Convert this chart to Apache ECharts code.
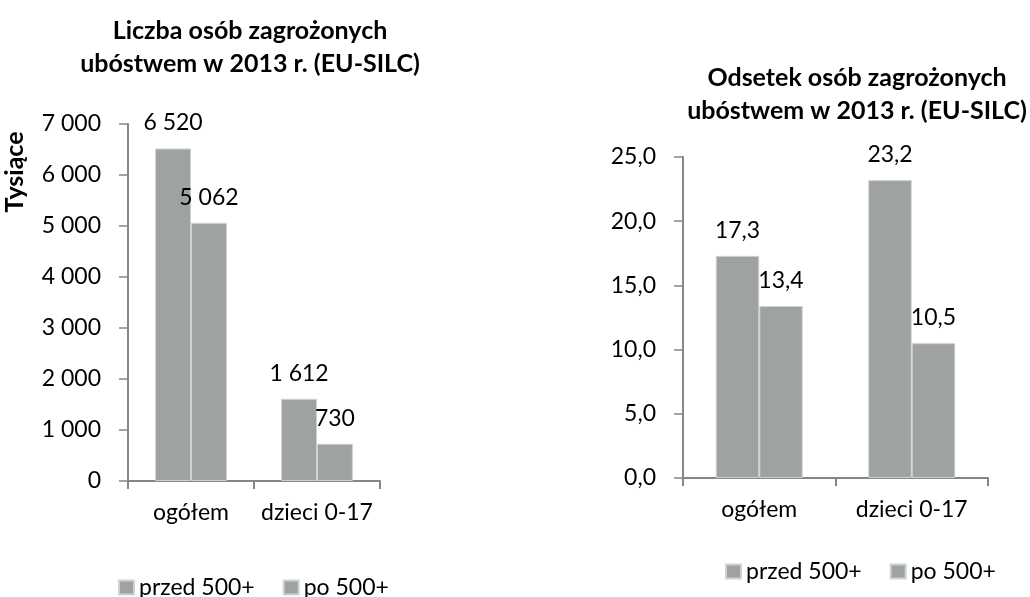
<!DOCTYPE html>
<html>
<head>
<meta charset="utf-8">
<script src="https://cdn.jsdelivr.net/npm/echarts@6/dist/echarts.min.js"></script>
<style>
  html, body { margin: 0; padding: 0; background: #fff; }
  #chart { width: 1030px; height: 597px; }
</style>
</head>
<body>
<div id="chart"></div>
<script>
const categories = ["ogółem", "dzieci 0-17"];
const seriesNames = ["przed 500+", "po 500+"];
const countBefore = [6520, 1612];
const countAfter = [5062, 730];
const rateBefore = [17.3, 23.2];
const rateAfter = [13.4, 10.5];

const font = "Lato, 'Liberation Sans', sans-serif";
const barColor = "#9ea2a3";
const axisColor = "#868686";

const fmtThousands = (v) => String(v).replace(/\B(?=(\d{3})+(?!\d))/g, " ");
const fmtRate = (v) => v.toFixed(1).replace(".", ",");

function barSeries(name, data, idx, fmt) {
  return {
    name,
    type: "bar",
    xAxisIndex: idx,
    yAxisIndex: idx,
    data,
    barGap: "0%",
    barCategoryGap: "43%",
    itemStyle: { color: barColor, borderColor: "#cfd2d2", borderWidth: 1 },
    label: {
      show: true,
      position: "top",
      distance: 14,
      color: "#000",
      fontFamily: font,
      fontSize: 23,
      formatter: (p) => fmt(p.value)
    }
  };
}

function catAxis(idx) {
  return {
    type: "category",
    gridIndex: idx,
    data: categories,
    axisLine: { lineStyle: { color: axisColor, width: 2 } },
    axisTick: { show: true, length: 8, lineStyle: { color: axisColor, width: 2 } },
    axisLabel: { color: "#000", fontFamily: font, fontSize: 23, margin: 20, interval: 0 }
  };
}

function valAxis(idx, max, interval, fmt) {
  return {
    type: "value",
    gridIndex: idx,
    min: 0,
    max,
    interval,
    splitLine: { show: false },
    axisLine: { show: true, lineStyle: { color: axisColor, width: 2 } },
    axisTick: { show: true, length: 9, lineStyle: { color: axisColor, width: 1.5 } },
    axisLabel: { color: "#000", fontFamily: font, fontSize: 23, margin: 27, formatter: fmt }
  };
}

const legendBase = {
  data: seriesNames,
  icon: "rect",
  itemWidth: 15,
  itemHeight: 14,
  itemGap: 28,
  textStyle: { color: "#000", fontFamily: font, fontSize: 23 }
};

const titleStyle = { fontFamily: font, fontSize: 25, fontWeight: "bold", color: "#000", lineHeight: 33 };

const chart = echarts.init(document.getElementById("chart"));
chart.setOption({
  animation: false,
  textStyle: { fontFamily: font },
  title: [
    {
      text: "Liczba osób zagrożonych\nubóstwem w 2013 r. (EU-SILC)",
      left: 245,
      top: 9,
      textAlign: "center",
      textStyle: titleStyle
    },
    {
      text: "Odsetek osób zagrożonych\nubóstwem w 2013 r. (EU-SILC)",
      left: 852,
      top: 56,
      textAlign: "center",
      textStyle: titleStyle
    }
  ],
  legend: [
    { ...legendBase, left: 113, top: 571 },
    { ...legendBase, left: 720, top: 555 }
  ],
  grid: [
    { left: 128, right: 650, top: 124, bottom: 116 },
    { left: 683, right: 42, top: 157, bottom: 119 }
  ],
  xAxis: [catAxis(0), catAxis(1)],
  yAxis: [
    valAxis(0, 7000, 1000, fmtThousands),
    valAxis(1, 25, 5, fmtRate)
  ],
  graphic: [
    {
      type: "text",
      x: 15,
      y: 172,
      rotation: Math.PI / 2,
      style: {
        text: "Tysiące",
        fill: "#000",
        font: "bold 25px " + font,
        align: "center",
        verticalAlign: "middle"
      }
    }
  ],
  series: [
    barSeries(seriesNames[0], countBefore, 0, fmtThousands),
    barSeries(seriesNames[1], countAfter, 0, fmtThousands),
    barSeries(seriesNames[0], rateBefore, 1, fmtRate),
    barSeries(seriesNames[1], rateAfter, 1, fmtRate)
  ]
});
</script>
</body>
</html>
